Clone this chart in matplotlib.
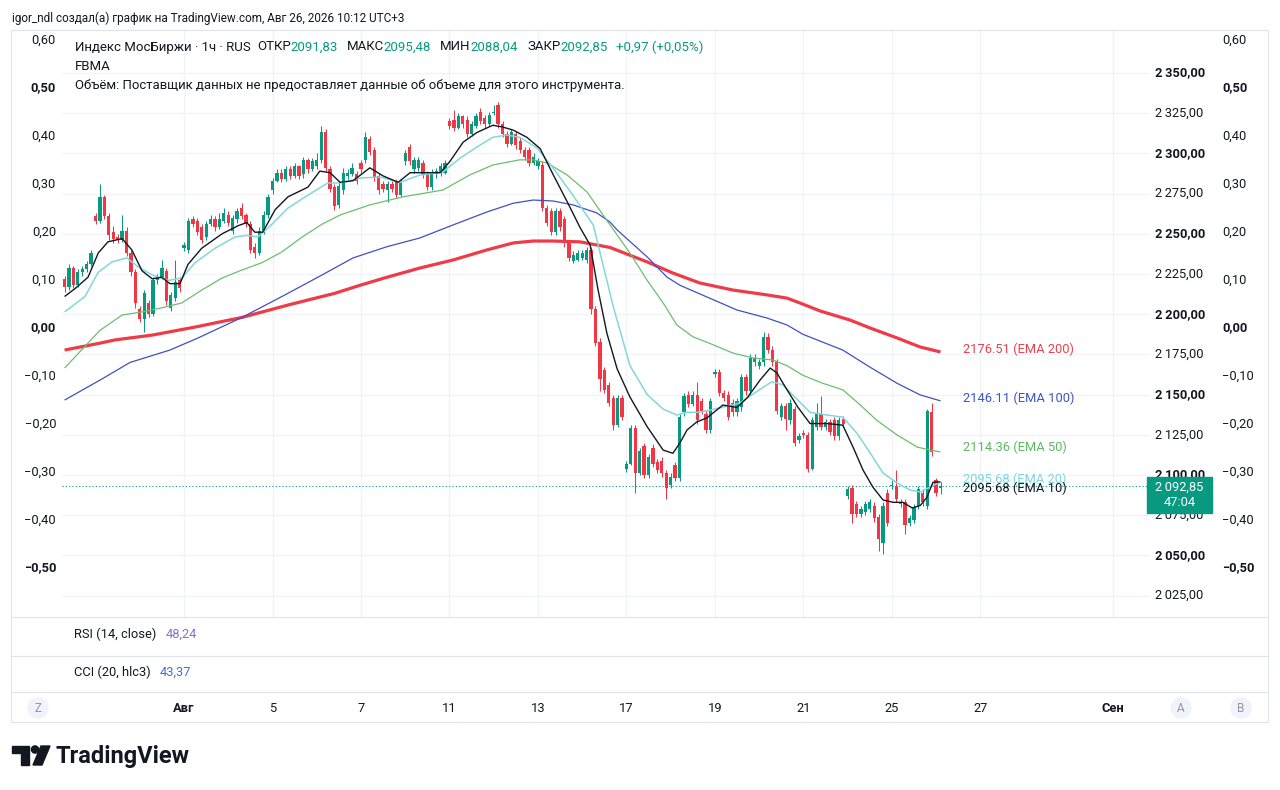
import numpy as np
import matplotlib.pyplot as plt
from matplotlib.transforms import blended_transform_factory
from matplotlib.patches import Rectangle, Circle, Polygon

plt.rcParams['font.family'] = ['Roboto', 'DejaVu Sans']

# ---- hourly candles, IMOEX, bars numbered 10 per trading day (Jul 29 = day 0)
first_bar = 3
opens = [
    2222, 2217, 2229, 2218, 2226, 2228, 2231,                      # Jul 29
    2261, 2258, 2273, 2261, 2251, 2248, 2246, 2252, 2238, 2226,    # Jul 30
    2203, 2197, 2207, 2200, 2221, 2223, 2227, 2204, 2210, 2221,    # Jul 31
    2241, 2240, 2259, 2258, 2254, 2248, 2256, 2259, 2254, 2258,    # Aug 3
    2262, 2252, 2259, 2266, 2262, 2256, 2242, 2238, 2252, 2262,    # Aug 4
    2277, 2283, 2288, 2284, 2290, 2286, 2292, 2287, 2296, 2290,    # Aug 5
    2292, 2296, 2313, 2290, 2279, 2268, 2277, 2286, 2287, 2287,    # Aug 6
    2294, 2296, 2309, 2302, 2286, 2281, 2277, 2281, 2282, 2274,    # Aug 7
    2295, 2304, 2290, 2291, 2294, 2287, 2279, 2287, 2288, 2288,    # Aug 10
    2320, 2321, 2316, 2323, 2321, 2312, 2317, 2326, 2322, 2318,    # Aug 11
    2325, 2330, 2318, 2312, 2306, 2312, 2308, 2302, 2302, 2294,    # Aug 12
    2292, 2293, 2266, 2264, 2251, 2264, 2259, 2244, 2233, 2234,    # Aug 13
    2235, 2234, 2240, 2203, 2183, 2165, 2156, 2148, 2131, 2148,    # Aug 14
    2104, 2107, 2129, 2101, 2118, 2100, 2117, 2108, 2109, 2101,    # Aug 17
    2094, 2106, 2098, 2139, 2150, 2144, 2150, 2146, 2138, 2128,    # Aug 18
    2163, 2164, 2151, 2150, 2145, 2139, 2142, 2161, 2152, 2170,    # Aug 19
    2168, 2170, 2186, 2178, 2170, 2136, 2143, 2134, 2141, 2122,    # Aug 20
    2126, 2125, 2104, 2130, 2138, 2130, 2133, 2134, 2124, 2135,    # Aug 21
    2087, 2092, 2082, 2076, 2077, 2079, 2081, 2074, 2058, 2089,    # Aug 24
    2093, 2093, 2083, 2083, 2070, 2072, 2081, 2089, 2081, 2139,    # Aug 25
    2097, 2091.83,                                                 # Aug 26
]
closes = [
    2217, 2229, 2218, 2226, 2228, 2231, 2238,
    2258, 2273, 2261, 2249, 2247, 2246, 2252, 2238, 2226, 2207,
    2197, 2213, 2200, 2221, 2223, 2229, 2208, 2212, 2220, 2216,
    2243, 2258, 2256, 2251, 2246, 2256, 2259, 2254, 2259, 2263,
    2257, 2260, 2264, 2261, 2256, 2240, 2238, 2252, 2262, 2273,
    2283, 2288, 2284, 2290, 2286, 2292, 2286, 2296, 2290, 2295,
    2296, 2313, 2291, 2278, 2267, 2280, 2288, 2288, 2291, 2283,
    2290, 2310, 2301, 2285, 2277, 2278, 2281, 2278, 2274, 2282,
    2300, 2295, 2296, 2296, 2287, 2279, 2288, 2289, 2292, 2294,
    2317, 2316, 2323, 2318, 2312, 2318, 2323, 2320, 2318, 2324,
    2326, 2318, 2312, 2306, 2313, 2305, 2302, 2298, 2294, 2298,
    2295, 2266, 2257, 2251, 2264, 2254, 2244, 2235, 2237, 2238,
    2238, 2240, 2203, 2182, 2160, 2153, 2145, 2131, 2148, 2136,
    2107, 2129, 2101, 2115, 2100, 2111, 2107, 2103, 2101, 2092,
    2099, 2098, 2136, 2149, 2144, 2150, 2134, 2140, 2128, 2146,
    2164, 2151, 2148, 2136, 2139, 2146, 2161, 2152, 2173, 2173,
    2170, 2186, 2178, 2170, 2140, 2143, 2135, 2145, 2120, 2124,
    2125, 2104, 2134, 2138, 2130, 2133, 2127, 2124, 2134, 2132,
    2091, 2076, 2076, 2079, 2082, 2083, 2073, 2060, 2081, 2070,
    2094, 2085, 2082, 2069, 2073, 2080, 2091, 2083, 2140, 2114,
    2089, 2092.85,
]
highs = [
    2224, 2231, 2230, 2228, 2230, 2233, 2240,
    2263, 2281, 2274, 2263, 2255, 2250, 2262, 2254, 2240, 2228,
    2205, 2215, 2209, 2223, 2225, 2234, 2229, 2214, 2234, 2223,
    2245, 2260, 2261, 2260, 2256, 2258, 2262, 2261, 2263, 2266,
    2264, 2262, 2266, 2269, 2263, 2258, 2244, 2254, 2264, 2275,
    2285, 2290, 2290, 2292, 2292, 2294, 2293, 2298, 2297, 2297,
    2300, 2317, 2315, 2292, 2281, 2282, 2291, 2290, 2294, 2289,
    2296, 2313, 2311, 2304, 2288, 2283, 2283, 2283, 2284, 2284,
    2302, 2306, 2298, 2298, 2296, 2289, 2290, 2291, 2294, 2296,
    2322, 2327, 2325, 2324, 2323, 2320, 2325, 2328, 2324, 2326,
    2330, 2332, 2320, 2314, 2315, 2314, 2310, 2304, 2304, 2300,
    2297, 2295, 2268, 2266, 2266, 2266, 2261, 2246, 2239, 2240,
    2240, 2242, 2242, 2205, 2185, 2167, 2158, 2150, 2150, 2150,
    2109, 2131, 2131, 2117, 2120, 2113, 2119, 2110, 2111, 2103,
    2101, 2108, 2138, 2151, 2152, 2152, 2158, 2148, 2140, 2148,
    2166, 2166, 2153, 2152, 2147, 2148, 2163, 2163, 2175, 2175,
    2172, 2189, 2188, 2180, 2172, 2145, 2145, 2147, 2143, 2126,
    2128, 2127, 2136, 2145, 2149, 2135, 2135, 2136, 2136, 2137,
    2093, 2094, 2084, 2081, 2084, 2085, 2083, 2076, 2083, 2091,
    2097, 2103, 2085, 2085, 2075, 2082, 2093, 2091, 2141, 2145,
    2098, 2095.48,
]
lows = [
    2214, 2215, 2216, 2217, 2224, 2226, 2230,
    2256, 2257, 2259, 2246, 2244, 2244, 2245, 2236, 2224, 2204,
    2195, 2189, 2198, 2199, 2219, 2222, 2206, 2202, 2208, 2214,
    2239, 2238, 2254, 2249, 2244, 2246, 2255, 2252, 2253, 2257,
    2255, 2250, 2257, 2259, 2254, 2238, 2235, 2237, 2250, 2260,
    2275, 2282, 2282, 2283, 2284, 2285, 2284, 2285, 2288, 2289,
    2290, 2294, 2289, 2276, 2265, 2266, 2275, 2284, 2286, 2281,
    2288, 2294, 2299, 2283, 2275, 2276, 2270, 2276, 2272, 2273,
    2293, 2293, 2288, 2289, 2285, 2277, 2277, 2285, 2286, 2287,
    2315, 2314, 2315, 2316, 2310, 2311, 2316, 2318, 2316, 2317,
    2324, 2316, 2310, 2304, 2305, 2303, 2300, 2296, 2292, 2293,
    2290, 2264, 2255, 2249, 2249, 2252, 2242, 2233, 2232, 2233,
    2234, 2232, 2200, 2180, 2152, 2151, 2143, 2128, 2130, 2134,
    2102, 2106, 2089, 2100, 2098, 2098, 2105, 2101, 2099, 2085,
    2092, 2096, 2096, 2137, 2142, 2143, 2132, 2138, 2126, 2126,
    2161, 2149, 2146, 2134, 2137, 2137, 2140, 2150, 2150, 2168,
    2166, 2168, 2176, 2168, 2138, 2134, 2128, 2132, 2118, 2120,
    2123, 2102, 2103, 2128, 2128, 2128, 2125, 2122, 2122, 2130,
    2085, 2070, 2074, 2074, 2075, 2077, 2071, 2053, 2051, 2068,
    2091, 2083, 2080, 2063, 2068, 2070, 2079, 2081, 2079, 2112,
    2087, 2088.04,
]

# ---- moving averages (bar position, value)
ema10_bars = [3, 5.4, 8.3, 10.6, 12.8, 16, 18.2, 20.5, 22.8, 25, 26.8, 29.1, 30.9, 34, 38.6,
              42.2, 44.2, 46, 47.8, 50.6, 53.5, 58, 60.7, 63, 65.3, 68.2, 72, 75, 78.4, 81.1,
              84.9, 87.9, 90.1, 93.1, 96.2, 99.8, 101.9, 104.4, 107.5, 110.5, 113.4, 116.6,
              119.5, 121.8, 123.6, 125.6, 127.9, 130.8, 134.7, 138.3, 140.5, 142.1, 143.7,
              145.9, 148.2, 151.8, 155, 157.3, 160.2, 162.5, 164, 166.3, 168.8, 171.5, 175.3,
              178.9, 181.2, 183.5, 185.7, 188, 190.3, 192.5, 194.6, 196.4, 197.9, 199.3, 201]
ema10_vals = [2211, 2216, 2223, 2238, 2245, 2247, 2240, 2227, 2222, 2223, 2219, 2219, 2231, 2241, 2250,
              2255, 2257, 2251, 2251, 2265, 2273, 2279, 2289, 2288, 2282, 2283, 2291, 2286, 2282, 2288,
              2288, 2288, 2295, 2307, 2313, 2317.5, 2316.5, 2314.5, 2310, 2303, 2287, 2270,
              2254, 2243, 2215, 2188, 2166, 2148.5, 2130, 2115.5, 2113.5, 2120, 2128,
              2133, 2135.5, 2143.5, 2142, 2148, 2159, 2166.5, 2163.5, 2153, 2142, 2132, 2132,
              2131, 2117.5, 2103, 2092.5, 2084.5, 2083, 2083, 2079.5, 2081, 2086, 2095.5, 2095.68]
ema20_bars = [3, 7.6, 10.6, 13.7, 17.1, 19.6, 22.8, 26.4, 29.5, 32.5, 37, 41.5, 44.2, 46.7, 49,
              53.5, 58, 62.5, 65.3, 69.8, 74.3, 78.8, 83.3, 88.5, 92.4, 96.2, 99.8, 103, 105.9,
              109.8, 113.4, 117.9, 122.5, 127, 130.8, 134.7, 138.3, 141.4, 143.7, 146.6, 151.1,
              155.7, 159.5, 162.9, 165.4, 168.6, 171.5, 175.3, 178.9, 182.1, 185.1, 188, 191.2,
              194.1, 196.4, 198.6, 201]
ema20_vals = [2201.4, 2211, 2226, 2232.5, 2235, 2229.5, 2224.4, 2221, 2222.5, 2232, 2241, 2248, 2249, 2248, 2253.6,
              2266, 2274, 2281.6, 2281.6, 2284.7, 2285.3, 2282, 2286.5, 2288.4, 2297, 2304, 2310, 2311.4, 2310,
              2303.4, 2291, 2274, 2255.5, 2205, 2168, 2150, 2141, 2137.3, 2139, 2139, 2141.7,
              2144.8, 2152, 2158, 2156, 2147, 2139, 2137.3, 2136, 2126, 2113.7, 2101.2, 2095,
              2090.7, 2089.4, 2092.5, 2095.68]
ema50_bars = [3, 11, 12.1, 16, 20.5, 25, 29.5, 34, 38.6, 43.1, 47.6, 52.1, 56.7, 61.2, 65.3,
              72, 79.5, 88.5, 94.6, 99.8, 105.9, 108.9, 112.1, 116.6, 121.1, 126.3, 130.8, 134.7,
              138.3, 141.4, 145, 149.6, 154.1, 158.6, 163.1, 166.3, 169.9, 174.4, 178.9, 182.1,
              186.6, 191.2, 195.7, 198.6, 201]
ema50_vals = [2166.5, 2190, 2192, 2199.5, 2201.4, 2204, 2207, 2215, 2222.5, 2227.5, 2232, 2238.7, 2248, 2256, 2261.7,
              2268, 2273, 2277.2, 2286.6, 2292.8, 2296, 2296, 2294, 2286.6, 2276, 2255.5, 2238, 2221,
              2207, 2193.3, 2186, 2181, 2175.8, 2172.8, 2171.5, 2168, 2162, 2157, 2153, 2145.4,
              2134, 2124.9, 2117.4, 2115.5, 2114.36]
ema100_bars = [3, 11, 17.8, 26.8, 33, 43.1, 53.5, 61.2, 68.2, 75.9, 83.3, 90.8, 98.5, 104.4, 108.9,
               113.4, 117.9, 123.3, 126.3, 127.9, 134.7, 139.2, 142.1, 148.2, 155, 161.8, 166.3,
               169.9, 178.9, 185.1, 191.2, 196.4, 201]
ema100_vals = [2146.6, 2159, 2170, 2177.7, 2185, 2198, 2213, 2224.4, 2235, 2242, 2247.4, 2255.5, 2263.6, 2269, 2271,
               2270.4, 2268, 2263, 2257.3, 2252.4, 2235.6, 2223, 2218, 2210.7, 2202.6, 2197.6, 2193.3,
               2187.5, 2177.7, 2167, 2157, 2149.8, 2146.11]
ema200_bars = [3, 11, 14.4, 22.8, 32.5, 43.1, 53.5, 64.1, 69.8, 75.9, 83.3, 90.8, 98.5, 104.4, 108.9,
               113.4, 119.5, 126.3, 134.7, 140.5, 146.6, 154.1, 161.8, 166.3, 169.2, 173.8, 180.5,
               185.1, 191.2, 196.4, 201]
ema200_vals = [2177.7, 2182, 2184, 2187, 2192, 2198, 2205.7, 2213, 2218, 2223, 2228.7, 2233.7, 2240, 2244.3, 2245.5,
               2245.5, 2245, 2241.5, 2232.5, 2225.6, 2219.4, 2215, 2212, 2210, 2207, 2202, 2196.4,
               2191.4, 2185.2, 2179.6, 2176.51]

date_labels = ['Авг', '5', '7', '11', '13', '17', '19', '21', '25', '27', 'Сен']
date_bars = [30, 50, 70, 90, 110, 130, 150, 170, 190, 210, 240]
price_levels = np.arange(2025, 2351, 25)
pct_levels = np.round(np.arange(-0.5, 0.61, 0.1), 2)

UP, DOWN = '#089981', '#f23645'
TXT = '#131722'
GRID = '#f0f3fa'
LINE = '#e0e3eb'
FS = 9.3

W, H = 1280, 790
fig = plt.figure(figsize=(W / 100, H / 100), dpi=100)
fig.patch.set_facecolor('white')

# ---- main pane
pane_l, pane_r, pane_t, pane_b = 62, 1150, 30, 617
x0_px, bar_px = 51.3, 4.424
ref_price, ref_px, px_per_pt = 2350, 73, 1.608
ax = fig.add_axes([pane_l / W, 1 - pane_b / H, (pane_r - pane_l) / W, (pane_b - pane_t) / H])
ax.set_xlim((pane_l - x0_px) / bar_px, (pane_r - x0_px) / bar_px)
ax.set_ylim(ref_price - (pane_b - ref_px) / px_per_pt, ref_price + (ref_px - pane_t) / px_per_pt)
ax.set_xticks(date_bars)
ax.set_yticks(price_levels)
ax.grid(color=GRID, lw=0.9)
ax.tick_params(length=0, labelleft=False, labelbottom=False)
for s in ax.spines.values():
    s.set_visible(False)

o = np.array(opens, float); c = np.array(closes, float)
hi = np.array(highs, float); lo = np.array(lows, float)
bars = np.arange(first_bar, first_bar + len(c))
cols = np.where(c >= o, UP, DOWN)
ax.vlines(bars, lo, hi, colors=cols, lw=0.75, zorder=3)
ax.bar(bars, np.maximum(np.abs(c - o), 0.6), bottom=np.minimum(o, c), width=0.74,
       color=cols, linewidth=0, zorder=3)

emas = [
    (ema200_bars, ema200_vals, '#ef3b47', 2.3, '(EMA 200)', '#e8424d', 2),
    (ema100_bars, ema100_vals, '#3f51c0', 0.9, '(EMA 100)', '#3f55c0', 2),
    (ema50_bars, ema50_vals, '#6cbf6c', 0.9, '(EMA 50)', '#5fb862', 3),
    (ema20_bars, ema20_vals, '#80d8df', 1.1, '(EMA 20)', '#7fd6df', 2),
    (ema10_bars, ema10_vals, '#131722', 1.0, '(EMA 10)', TXT, -4.5),
]
for xb, yv, col, lw, name, tcol, dy in emas:
    ax.plot(xb, yv, color=col, lw=lw, zorder=4, solid_capstyle='butt')
    ax.annotate(f'{yv[-1]:.2f} {name}', xy=(bars[-1] + 5, yv[-1]), xytext=(0, dy),
                textcoords='offset points', color=tcol, fontsize=FS, va='center', ha='left',
                annotation_clip=False, zorder=6)

ax.axhline(c[-1], color=UP, lw=0.8, ls=(0, (1, 2)), zorder=2)

# price scale (right) and percent scales (left / far right)
tr_price = blended_transform_factory(fig.transFigure, ax.transData)
for v in price_levels:
    lab = f'{v:,.2f}'.replace(',', '\u2009').replace('.', ',')
    ax.text(1155 / W, v, lab, transform=tr_price, ha='left', va='center', fontsize=FS,
            color=TXT, fontweight='bold' if v % 50 == 0 else 'normal', clip_on=False)

ax2 = ax.twinx()
ax2.set_ylim(0.6 - (pane_b - 40) / 480, 0.6 + (40 - pane_t) / 480)
ax2.tick_params(length=0, labelright=False)
for s in ax2.spines.values():
    s.set_visible(False)
tr_pct = blended_transform_factory(fig.transFigure, ax2.transData)
for v in pct_levels:
    lab = f'{abs(v):.2f}'.replace('.', ',')
    if v < 0:
        lab = '\u2212' + lab
    bold = 'bold' if abs(round(v * 10)) % 5 == 0 else 'normal'
    ax2.text(56 / W, v, lab, transform=tr_pct, ha='right', va='center', fontsize=FS,
             color=TXT, fontweight=bold, clip_on=False)
    ax2.text(1222 / W, v, lab, transform=tr_pct, ha='left', va='center', fontsize=FS,
             color=TXT, fontweight=bold, clip_on=False)

# date axis
tr_date = blended_transform_factory(ax.transData, fig.transFigure)
for b, lab in zip(date_bars, date_labels):
    ax.text(b, 1 - 708 / H, lab, transform=tr_date, ha='center', va='center', fontsize=FS,
            color=TXT, fontweight='bold' if not lab.isdigit() else 'normal', clip_on=False)

# ---- overlay in pixel units for frame, legends, badges
ov = fig.add_axes([0, 0, 1, 1], zorder=10)
ov.set_xlim(0, W)
ov.set_ylim(H, 0)
ov.axis('off')

ov.add_patch(Rectangle((11, 30), 1257, 692, fill=False, edgecolor=LINE, lw=0.8))
for yy in (617, 656, 692):
    ov.plot([11, 1268], [yy, yy], color=LINE, lw=0.8)

renderer = fig.canvas.get_renderer()


def text_run(x, y, parts, size=FS):
    for s, col, gap in parts:
        t = ov.text(x, y, s, color=col, fontsize=size, ha='left', va='center')
        x += t.get_window_extent(renderer).width + gap


ov.text(12, 18, 'igor_ndl создал(а) график на TradingView.com, Авг 26, 2026 10:12 UTC+3',
        fontsize=8.5, color=TXT, va='center', ha='left')
text_run(75, 47, [('Индекс МосБиржи · 1ч · RUS', TXT, 6),
                  ('ОТКР', TXT, 0), ('2091,83', UP, 9),
                  ('МАКС', TXT, 0), ('2095,48', UP, 9),
                  ('МИН', TXT, 0), ('2088,04', UP, 9),
                  ('ЗАКР', TXT, 0), ('2092,85', UP, 8),
                  ('+0,97 (+0,05%)', UP, 0)], size=9.5)
ov.text(75, 66, 'FBMA', fontsize=9.5, color=TXT, va='center')
ov.text(75, 85, 'Объём: Поставщик данных не предоставляет данные об объеме для этого инструмента.',
        fontsize=9.45, color=TXT, va='center')
text_run(74, 634, [('RSI (14, close)', TXT, 9), ('48,24', '#8b6fd0', 0)])
text_run(74, 672, [('CCI (20, hlc3)', TXT, 9), ('43,37', '#3f6fe0', 0)])

# last price badge
ov.add_patch(Rectangle((1147, 477), 65, 36, color=UP, zorder=5))
ov.text(1179.5, 487.5, '2\u2009092,85', color='white', fontsize=FS, ha='center', va='center', zorder=6)
ov.text(1179.5, 502, '47:04', color='white', fontsize=FS, ha='center', va='center', zorder=6)

# scale buttons
for bx, lab in ((38, 'Z'), (1181, 'A'), (1241, 'B')):
    ov.add_patch(Circle((bx, 708), 10, color='#f0f3fa'))
    ov.text(bx, 708, lab, color='#9598a1', fontsize=8.5, ha='center', va='center')

# TradingView logo
ov.add_patch(Polygon([(12, 746), (29, 746), (29, 765), (21, 765), (21, 753), (12, 753)], color=TXT))
ov.add_patch(Circle((35, 749.5), 3.6, color=TXT))
ov.add_patch(Polygon([(41, 746), (50, 746), (42, 765), (33, 765)], color=TXT))
ov.text(55, 756, 'TradingView', fontsize=17, fontweight='bold', color=TXT, va='center', ha='left')

fig.savefig('out.png', dpi=100, facecolor='white')
